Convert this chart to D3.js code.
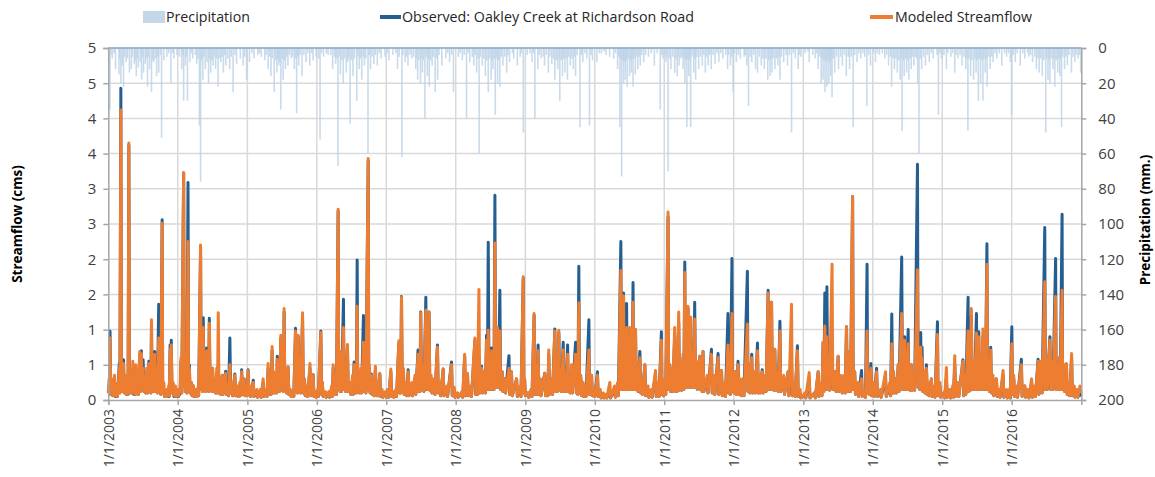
<!DOCTYPE html>
<html>
<head>
<meta charset="utf-8">
<script src="https://cdn.jsdelivr.net/npm/d3@7"></script>
<style>
  html, body { margin: 0; padding: 0; background: #ffffff; }
  svg { display: block; }
</style>
</head>
<body>
<svg id="chart" width="1155" height="477"></svg>
<script>
// ---------------- DATA ----------------
const yearTickLabels = ["1/1/2003","1/1/2004","1/1/2005","1/1/2006","1/1/2007","1/1/2008","1/1/2009",
  "1/1/2010","1/1/2011","1/1/2012","1/1/2013","1/1/2014","1/1/2015","1/1/2016"];
const flowTickValues = [0, 0.5, 1, 1.5, 2, 2.5, 3, 3.5, 4, 4.5, 5];
const flowTickLabels = ["0","1","1","2","2","3","3","4","4","5","5"];
const precipTickValues = [0, 20, 40, 60, 80, 100, 120, 140, 160, 180, 200];

const legendLabels = ["Precipitation", "Observed: Oakley Creek at Richardson Road", "Modeled Streamflow"];

// Observed streamflow (cms)
const observedFlow = [
["2003-01-01",.12],["2003-01-05",.20],["2003-01-07",.08],["2003-01-10",.98],["2003-01-14",.15],["2003-01-20",.25],["2003-01-24",.06],["2003-02-03",.10],["2003-02-07",.05],["2003-02-14",.22],["2003-02-18",.05],["2003-02-28",.52],["2003-03-03",.10],["2003-03-08",4.43],["2003-03-11",.15],["2003-03-16",.55],["2003-03-19",.12],["2003-03-22",.57],["2003-03-26",.10],["2003-04-02",.30],["2003-04-06",.08],["2003-04-12",.15],["2003-04-15",.08],["2003-04-19",3.62],["2003-04-22",.15],["2003-04-25",.45],["2003-04-28",.10],["2003-05-04",.38],["2003-05-07",.10],["2003-05-10",.25],["2003-05-14",.08],["2003-05-20",.20],["2003-05-23",.08],["2003-05-26",.42],["2003-05-30",.10],["2003-06-04",.18],["2003-06-08",.08],["2003-06-15",.62],["2003-06-19",.12],["2003-06-24",.70],["2003-06-28",.14],["2003-07-03",.57],["2003-07-07",.12],["2003-07-12",.25],["2003-07-16",.10],["2003-07-22",.40],["2003-07-26",.10],["2003-08-02",.55],["2003-08-06",.12],["2003-08-10",.20],["2003-08-13",.10],["2003-08-16",1.10],["2003-08-19",.15],["2003-08-22",.45],["2003-08-26",.12],["2003-09-02",.69],["2003-09-06",.12],["2003-09-12",.35],["2003-09-16",.10],["2003-09-23",1.36],["2003-09-26",.12],["2003-09-30",.40],["2003-10-04",.08],["2003-10-11",2.56],["2003-10-14",.10],["2003-10-20",.12],["2003-10-24",.05],["2003-11-04",.08],["2003-11-08",.05],["2003-11-14",.10],["2003-11-17",.05],["2003-11-22",.78],["2003-11-25",.15],["2003-11-28",.85],["2003-12-02",.10],["2003-12-08",.15],["2003-12-12",.05],["2003-12-20",.12],["2003-12-24",.05],["2003-12-30",.06],
["2004-01-05",.05],["2004-01-14",.10],["2004-01-18",.55],["2004-01-22",.10],["2004-02-01",3.22],["2004-02-04",.20],["2004-02-07",.70],["2004-02-10",.12],["2004-02-14",.35],["2004-02-18",.10],["2004-02-24",3.09],["2004-02-27",.15],["2004-03-02",.50],["2004-03-06",.10],["2004-03-12",.25],["2004-03-16",.06],["2004-03-22",.20],["2004-03-26",.05],["2004-04-05",.10],["2004-04-09",.05],["2004-04-16",.12],["2004-04-20",.06],["2004-04-30",2.18],["2004-05-03",.15],["2004-05-06",.45],["2004-05-10",.12],["2004-05-14",1.17],["2004-05-18",.15],["2004-05-22",.45],["2004-05-26",.12],["2004-06-01",.74],["2004-06-04",.15],["2004-06-08",.40],["2004-06-11",.12],["2004-06-15",1.16],["2004-06-19",.15],["2004-06-24",.45],["2004-06-28",.12],["2004-07-02",.45],["2004-07-06",.12],["2004-07-14",.25],["2004-07-18",.10],["2004-07-24",.20],["2004-07-28",.10],["2004-08-01",.50],["2004-08-05",.10],["2004-08-10",.30],["2004-08-14",.08],["2004-08-22",.35],["2004-08-26",.08],["2004-09-09",.41],["2004-09-13",.08],["2004-09-20",.15],["2004-09-24",.06],["2004-10-01",.88],["2004-10-05",.10],["2004-10-12",.20],["2004-10-16",.06],["2004-10-27",.37],["2004-10-31",.06],["2004-11-10",.15],["2004-11-14",.05],["2004-11-22",.20],["2004-11-26",.06],["2004-12-02",.43],["2004-12-06",.08],["2004-12-15",.30],["2004-12-19",.06],["2004-12-27",.20],["2004-12-31",.06],
["2005-01-05",.43],["2005-01-09",.08],["2005-01-15",.15],["2005-01-19",.05],["2005-02-01",.28],["2005-02-05",.05],["2005-02-20",.10],["2005-02-24",.04],["2005-03-10",.12],["2005-03-14",.04],["2005-03-25",.25],["2005-03-29",.05],["2005-04-10",.10],["2005-04-14",.05],["2005-04-20",.45],["2005-04-24",.08],["2005-05-01",.25],["2005-05-05",.08],["2005-05-11",.70],["2005-05-15",.10],["2005-05-20",.35],["2005-05-24",.10],["2005-06-01",.20],["2005-06-04",.10],["2005-06-07",.62],["2005-06-11",.12],["2005-06-15",.40],["2005-06-19",.12],["2005-06-26",.88],["2005-06-30",.14],["2005-07-05",.35],["2005-07-09",.12],["2005-07-13",1.25],["2005-07-17",.14],["2005-07-22",.40],["2005-07-26",.10],["2005-08-03",.47],["2005-08-07",.08],["2005-08-15",.10],["2005-08-19",.05],["2005-08-28",.08],["2005-09-02",.05],["2005-09-11",1.02],["2005-09-14",.12],["2005-09-18",.40],["2005-09-21",.10],["2005-09-25",.90],["2005-09-29",.12],["2005-10-04",.30],["2005-10-08",.10],["2005-10-18",1.15],["2005-10-22",.10],["2005-10-28",.30],["2005-11-01",.06],["2005-11-10",.15],["2005-11-14",.05],["2005-11-26",.45],["2005-11-30",.06],["2005-12-13",.36],["2005-12-17",.05],["2005-12-25",.10],["2005-12-29",.04],
["2006-01-05",.12],["2006-01-09",.05],["2006-01-22",.98],["2006-01-26",.08],["2006-01-30",.25],["2006-02-03",.05],["2006-02-15",.10],["2006-02-19",.04],["2006-03-05",.08],["2006-03-09",.04],["2006-03-20",.15],["2006-03-24",.05],["2006-03-28",.45],["2006-04-01",.08],["2006-04-10",.30],["2006-04-14",.08],["2006-04-23",2.68],["2006-04-26",.15],["2006-04-30",.40],["2006-05-03",.12],["2006-05-07",.65],["2006-05-11",.12],["2006-05-21",1.43],["2006-05-24",.15],["2006-05-28",.45],["2006-06-01",.12],["2006-06-11",.75],["2006-06-15",.12],["2006-06-25",.20],["2006-06-29",.08],["2006-07-08",.20],["2006-07-11",.08],["2006-07-16",.54],["2006-07-20",.10],["2006-07-24",.30],["2006-07-28",.10],["2006-08-01",1.99],["2006-08-04",.15],["2006-08-10",.35],["2006-08-14",.10],["2006-08-20",.40],["2006-08-24",.10],["2006-09-03",1.20],["2006-09-06",.12],["2006-09-12",.30],["2006-09-16",.10],["2006-09-28",3.40],["2006-10-01",.15],["2006-10-04",.45],["2006-10-08",.10],["2006-10-15",.37],["2006-10-19",.08],["2006-10-25",.20],["2006-10-29",.06],["2006-11-05",.45],["2006-11-09",.06],["2006-11-15",.25],["2006-11-19",.06],["2006-11-28",.37],["2006-12-02",.05],["2006-12-10",.12],["2006-12-14",.04],["2006-12-28",.10],
["2007-01-02",.04],["2007-01-10",.15],["2007-01-14",.04],["2007-01-25",.40],["2007-01-29",.05],["2007-02-05",.08],["2007-02-09",.04],["2007-02-20",.12],["2007-02-24",.05],["2007-03-08",.80],["2007-03-12",.10],["2007-03-15",.35],["2007-03-18",.10],["2007-03-22",1.47],["2007-03-26",.12],["2007-04-01",.40],["2007-04-05",.08],["2007-04-15",.15],["2007-04-19",.06],["2007-04-26",.43],["2007-04-30",.06],["2007-05-15",.20],["2007-05-19",.06],["2007-06-01",.30],["2007-06-05",.08],["2007-06-17",.71],["2007-06-20",.12],["2007-06-24",.40],["2007-06-27",.12],["2007-07-01",1.25],["2007-07-05",.15],["2007-07-14",.50],["2007-07-18",.12],["2007-07-28",1.46],["2007-07-31",.15],["2007-08-05",.60],["2007-08-09",.15],["2007-08-14",1.25],["2007-08-18",.14],["2007-08-25",.30],["2007-08-29",.10],["2007-09-10",.25],["2007-09-14",.08],["2007-09-27",.78],["2007-10-01",.10],["2007-10-10",.20],["2007-10-14",.06],["2007-10-27",.44],["2007-10-31",.06],["2007-11-15",.15],["2007-11-19",.05],["2007-12-10",.54],["2007-12-14",.06],["2007-12-24",.15],["2007-12-28",.04],
["2008-01-10",.10],["2008-01-14",.04],["2008-02-03",.10],["2008-02-07",.04],["2008-02-17",.62],["2008-02-21",.06],["2008-03-03",.35],["2008-03-07",.06],["2008-03-20",.15],["2008-03-24",.05],["2008-04-11",.85],["2008-04-15",.08],["2008-04-20",.30],["2008-04-24",.08],["2008-05-02",.60],["2008-05-06",.10],["2008-05-16",.48],["2008-05-20",.10],["2008-06-01",.40],["2008-06-05",.10],["2008-06-11",.92],["2008-06-15",.15],["2008-06-20",2.24],["2008-06-24",.15],["2008-06-28",.55],["2008-07-02",.15],["2008-07-08",.74],["2008-07-12",.15],["2008-07-16",.50],["2008-07-20",.15],["2008-07-25",2.91],["2008-07-28",.20],["2008-08-01",.60],["2008-08-04",.18],["2008-08-08",1.03],["2008-08-12",.18],["2008-08-20",1.56],["2008-08-24",.15],["2008-09-01",.40],["2008-09-05",.12],["2008-09-15",.30],["2008-09-19",.10],["2008-10-07",.63],["2008-10-11",.08],["2008-10-20",.40],["2008-10-24",.06],["2008-11-16",.30],["2008-11-20",.05],["2008-12-05",.15],["2008-12-09",.05],["2008-12-21",1.73],["2008-12-24",.10],["2008-12-28",.30],
["2009-01-01",.06],["2009-01-15",.10],["2009-01-19",.04],["2009-02-01",.15],["2009-02-05",.05],["2009-02-16",1.20],["2009-02-20",.08],["2009-02-25",.40],["2009-03-01",.08],["2009-03-09",.78],["2009-03-13",.08],["2009-03-20",.30],["2009-03-24",.06],["2009-04-13",.38],["2009-04-17",.06],["2009-04-25",.20],["2009-04-29",.06],["2009-05-04",.65],["2009-05-08",.08],["2009-05-20",.30],["2009-05-24",.08],["2009-06-05",1.01],["2009-06-09",.12],["2009-06-15",.45],["2009-06-19",.12],["2009-06-26",.95],["2009-06-30",.14],["2009-07-05",.40],["2009-07-09",.12],["2009-07-19",.82],["2009-07-23",.12],["2009-07-28",.35],["2009-08-01",.12],["2009-08-11",.78],["2009-08-15",.12],["2009-08-20",.30],["2009-08-24",.10],["2009-09-01",.45],["2009-09-05",.10],["2009-09-22",.82],["2009-09-26",.10],["2009-09-30",.35],["2009-10-04",.08],["2009-10-09",1.90],["2009-10-13",.10],["2009-10-20",.30],["2009-10-24",.06],["2009-11-01",.15],["2009-11-05",.05],["2009-11-12",.20],["2009-11-16",.05],["2009-12-01",1.14],["2009-12-04",.08],["2009-12-08",.30],["2009-12-11",.08],["2009-12-15",.35],["2009-12-19",.06],["2009-12-28",.15],
["2010-01-01",.05],["2010-01-15",.40],["2010-01-19",.05],["2010-01-30",.10],["2010-02-03",.03],["2010-02-15",.06],["2010-02-19",.03],["2010-03-01",.05],["2010-03-05",.03],["2010-03-21",.12],["2010-03-25",.03],["2010-04-15",.15],["2010-04-19",.04],["2010-05-01",.20],["2010-05-05",.06],["2010-05-18",2.25],["2010-05-21",.15],["2010-05-25",.60],["2010-05-28",.15],["2010-06-01",1.52],["2010-06-04",.15],["2010-06-08",.60],["2010-06-12",.15],["2010-06-17",1.37],["2010-06-21",.15],["2010-06-25",.50],["2010-06-29",.15],["2010-07-04",1.00],["2010-07-08",.15],["2010-07-12",.60],["2010-07-16",.15],["2010-07-21",1.67],["2010-07-24",.15],["2010-07-28",.60],["2010-07-31",.15],["2010-08-03",1.00],["2010-08-07",.15],["2010-08-12",.50],["2010-08-16",.12],["2010-08-26",.69],["2010-08-30",.10],["2010-09-05",.30],["2010-09-09",.08],["2010-09-21",.50],["2010-09-25",.06],["2010-10-08",.10],["2010-10-12",.04],["2010-10-25",.08],["2010-10-29",.04],["2010-11-16",.35],["2010-11-20",.05],["2010-12-01",.20],["2010-12-05",.05],["2010-12-17",.97],["2010-12-20",.08],["2010-12-24",.20],["2010-12-28",.06],
["2011-01-05",.20],["2011-01-09",.08],["2011-01-21",2.60],["2011-01-24",.15],["2011-01-30",.50],["2011-02-03",.12],["2011-02-10",.40],["2011-02-14",.12],["2011-02-25",.90],["2011-03-01",.12],["2011-03-05",.50],["2011-03-09",.12],["2011-03-18",1.10],["2011-03-22",.14],["2011-03-30",.50],["2011-04-03",.14],["2011-04-10",.60],["2011-04-14",.15],["2011-04-19",1.96],["2011-04-22",.18],["2011-04-28",.70],["2011-05-02",.18],["2011-05-06",1.30],["2011-05-10",.18],["2011-05-14",.60],["2011-05-17",.18],["2011-05-20",1.15],["2011-05-24",.18],["2011-06-01",.70],["2011-06-05",.18],["2011-06-10",1.39],["2011-06-14",.18],["2011-06-20",.50],["2011-06-24",.15],["2011-07-07",.62],["2011-07-11",.15],["2011-07-15",.35],["2011-07-19",.12],["2011-07-24",.69],["2011-07-28",.12],["2011-08-15",.30],["2011-08-19",.10],["2011-09-06",.72],["2011-09-10",.10],["2011-09-20",.30],["2011-09-24",.08],["2011-10-11",.66],["2011-10-15",.08],["2011-10-29",.42],["2011-11-02",.06],["2011-11-15",.20],["2011-11-19",.05],["2011-12-02",1.23],["2011-12-05",.10],["2011-12-10",.30],["2011-12-14",.08],["2011-12-23",2.01],["2011-12-26",.12],["2011-12-30",.40],
["2012-01-03",.10],["2012-01-10",.40],["2012-01-14",.08],["2012-01-24",.55],["2012-01-28",.08],["2012-02-05",.25],["2012-02-09",.06],["2012-02-20",.30],["2012-02-24",.06],["2012-03-13",1.83],["2012-03-16",.12],["2012-03-22",.50],["2012-03-26",.10],["2012-04-05",.65],["2012-04-09",.10],["2012-04-20",.35],["2012-04-24",.10],["2012-05-05",.81],["2012-05-09",.10],["2012-05-15",.35],["2012-05-19",.10],["2012-05-30",.43],["2012-06-03",.10],["2012-06-15",.30],["2012-06-19",.12],["2012-06-30",1.56],["2012-07-03",.15],["2012-07-08",.60],["2012-07-12",.15],["2012-07-18",1.39],["2012-07-22",.15],["2012-07-26",.50],["2012-07-30",.14],["2012-08-04",.72],["2012-08-08",.14],["2012-08-18",.40],["2012-08-22",.12],["2012-08-31",1.12],["2012-09-04",.12],["2012-09-20",.30],["2012-09-24",.08],["2012-10-13",.40],["2012-10-17",.06],["2012-10-31",.50],["2012-11-04",.06],["2012-11-15",.20],["2012-11-19",.05],["2012-12-01",.77],["2012-12-05",.05],["2012-12-15",.10],["2012-12-19",.03],
["2013-01-10",.08],["2013-01-14",.03],["2013-02-01",.30],["2013-02-05",.03],["2013-03-01",.10],["2013-03-05",.03],["2013-03-20",.40],["2013-03-24",.05],["2013-04-05",.20],["2013-04-09",.06],["2013-04-15",.82],["2013-04-19",.12],["2013-04-24",1.52],["2013-04-28",.15],["2013-05-05",1.61],["2013-05-09",.15],["2013-05-15",.50],["2013-05-19",.14],["2013-06-01",.90],["2013-06-05",.15],["2013-06-18",.40],["2013-06-22",.12],["2013-07-03",.62],["2013-07-07",.12],["2013-07-20",.30],["2013-07-24",.10],["2013-08-05",.25],["2013-08-09",.10],["2013-08-16",1.04],["2013-08-20",.12],["2013-08-25",.40],["2013-08-28",.12],["2013-09-02",.69],["2013-09-06",.12],["2013-09-17",2.89],["2013-09-20",.15],["2013-09-28",.40],["2013-10-02",.08],["2013-10-15",.20],["2013-10-19",.05],["2013-11-03",.42],["2013-11-07",.05],["2013-11-20",.10],["2013-11-24",.04],["2013-12-02",1.93],["2013-12-05",.10],["2013-12-10",.40],["2013-12-14",.08],["2013-12-22",.52],["2013-12-26",.06],
["2014-01-05",.20],["2014-01-09",.05],["2014-01-21",.45],["2014-01-25",.05],["2014-02-10",.10],["2014-02-14",.04],["2014-03-09",.30],["2014-03-13",.05],["2014-04-01",.20],["2014-04-05",.06],["2014-04-11",1.22],["2014-04-15",.10],["2014-04-20",.40],["2014-04-24",.10],["2014-05-01",.30],["2014-05-05",.10],["2014-05-15",.50],["2014-05-19",.12],["2014-06-02",2.03],["2014-06-06",.15],["2014-06-10",.60],["2014-06-14",.15],["2014-06-18",.90],["2014-06-22",.15],["2014-06-26",.50],["2014-06-30",.15],["2014-07-06",1.00],["2014-07-09",.15],["2014-07-12",.50],["2014-07-16",.14],["2014-07-23",.50],["2014-07-27",.14],["2014-08-05",.40],["2014-08-09",.14],["2014-08-24",3.35],["2014-08-27",.18],["2014-09-01",.50],["2014-09-05",.15],["2014-09-10",.96],["2014-09-13",.15],["2014-09-17",.75],["2014-09-21",.12],["2014-09-28",.40],["2014-10-02",.10],["2014-10-10",.50],["2014-10-14",.08],["2014-10-20",.20],["2014-10-24",.06],["2014-11-05",.30],["2014-11-09",.05],["2014-11-20",.15],["2014-11-24",.04],["2014-12-07",1.11],["2014-12-10",.06],["2014-12-20",.20],["2014-12-24",.04],
["2015-01-10",.10],["2015-01-14",.03],["2015-01-23",.30],["2015-01-27",.04],["2015-02-10",.10],["2015-02-14",.03],["2015-02-25",.15],["2015-03-01",.04],["2015-03-08",.50],["2015-03-12",.05],["2015-03-25",.20],["2015-03-29",.05],["2015-04-20",.57],["2015-04-24",.06],["2015-05-01",.30],["2015-05-05",.08],["2015-05-17",1.46],["2015-05-20",.12],["2015-05-25",.60],["2015-05-29",.14],["2015-06-03",1.20],["2015-06-07",.15],["2015-06-15",.50],["2015-06-19",.15],["2015-06-30",1.23],["2015-07-02",.15],["2015-07-05",.60],["2015-07-08",.15],["2015-07-12",.97],["2015-07-16",.15],["2015-07-22",.50],["2015-07-26",.15],["2015-08-03",.90],["2015-08-07",.15],["2015-08-12",.50],["2015-08-16",.15],["2015-08-24",2.22],["2015-08-27",.15],["2015-09-02",.50],["2015-09-06",.12],["2015-09-13",.75],["2015-09-17",.10],["2015-09-25",.30],["2015-09-29",.06],["2015-10-13",.30],["2015-10-17",.05],["2015-10-28",.10],["2015-11-01",.04],["2015-11-17",.35],["2015-11-21",.04],["2015-12-05",.10],["2015-12-09",.03],["2015-12-20",.12],["2015-12-24",.03],
["2016-01-02",1.04],["2016-01-05",.08],["2016-01-12",.30],["2016-01-16",.05],["2016-01-28",.15],["2016-02-01",.04],["2016-02-21",.58],["2016-02-25",.05],["2016-03-10",.20],["2016-03-14",.04],["2016-03-28",.10],["2016-04-01",.03],["2016-04-15",.25],["2016-04-19",.04],["2016-05-01",.15],["2016-05-05",.05],["2016-05-19",.58],["2016-05-23",.08],["2016-06-05",.50],["2016-06-09",.10],["2016-06-23",2.45],["2016-06-26",.15],["2016-07-02",.60],["2016-07-06",.15],["2016-07-20",.90],["2016-07-24",.15],["2016-08-01",.50],["2016-08-05",.15],["2016-08-19",2.01],["2016-08-22",.15],["2016-08-28",.50],["2016-09-01",.15],["2016-09-08",.60],["2016-09-12",.15],["2016-09-22",2.64],["2016-09-25",.15],["2016-10-01",.50],["2016-10-05",.12],["2016-10-15",.50],["2016-10-19",.08],["2016-10-28",.20],["2016-11-01",.06],["2016-11-11",.60],["2016-11-15",.06],["2016-11-25",.15],["2016-11-29",.04],["2016-12-10",.10],["2016-12-14",.04],["2016-12-25",.10],["2016-12-31",.05]
];

// Modeled streamflow (cms)
const modeledFlow = [
["2003-01-01",.10],["2003-01-05",.30],["2003-01-07",.08],["2003-01-10",.88],["2003-01-14",.12],["2003-01-20",.30],["2003-01-24",.06],["2003-02-03",.35],["2003-02-07",.06],["2003-02-14",.20],["2003-02-18",.05],["2003-02-28",.45],["2003-03-03",.10],["2003-03-08",4.12],["2003-03-11",.15],["2003-03-16",.50],["2003-03-19",.12],["2003-03-22",.52],["2003-03-26",.10],["2003-04-02",.35],["2003-04-06",.08],["2003-04-12",.25],["2003-04-15",.08],["2003-04-19",3.65],["2003-04-22",.15],["2003-04-25",.40],["2003-04-28",.10],["2003-05-04",.30],["2003-05-07",.10],["2003-05-10",.55],["2003-05-14",.10],["2003-05-20",.30],["2003-05-23",.08],["2003-05-26",.50],["2003-05-30",.10],["2003-06-04",.25],["2003-06-08",.08],["2003-06-15",.69],["2003-06-19",.12],["2003-06-24",.66],["2003-06-28",.14],["2003-07-03",.45],["2003-07-07",.12],["2003-07-12",.30],["2003-07-16",.10],["2003-07-22",.45],["2003-07-26",.10],["2003-08-02",.52],["2003-08-06",.12],["2003-08-10",.35],["2003-08-13",.10],["2003-08-16",1.14],["2003-08-19",.15],["2003-08-22",.50],["2003-08-26",.12],["2003-09-02",.65],["2003-09-06",.12],["2003-09-12",.40],["2003-09-16",.10],["2003-09-23",.88],["2003-09-26",.12],["2003-09-30",.45],["2003-10-04",.08],["2003-10-11",2.51],["2003-10-14",.10],["2003-10-20",.25],["2003-10-24",.05],["2003-11-04",.15],["2003-11-08",.05],["2003-11-14",.20],["2003-11-17",.06],["2003-11-22",.72],["2003-11-25",.15],["2003-11-28",.78],["2003-12-02",.10],["2003-12-08",.25],["2003-12-12",.06],["2003-12-20",.20],["2003-12-24",.05],["2003-12-30",.15],
["2004-01-05",.06],["2004-01-14",.20],["2004-01-18",.60],["2004-01-22",.10],["2004-02-01",3.23],["2004-02-04",.20],["2004-02-07",.60],["2004-02-10",.12],["2004-02-14",.40],["2004-02-18",.10],["2004-02-24",2.25],["2004-02-27",.15],["2004-03-02",.45],["2004-03-06",.10],["2004-03-12",.25],["2004-03-16",.06],["2004-03-22",.21],["2004-03-26",.05],["2004-04-05",.15],["2004-04-09",.05],["2004-04-16",.18],["2004-04-20",.06],["2004-04-30",2.20],["2004-05-03",.15],["2004-05-06",.50],["2004-05-10",.12],["2004-05-14",1.03],["2004-05-18",.15],["2004-05-22",.40],["2004-05-26",.12],["2004-06-01",.70],["2004-06-04",.15],["2004-06-08",.45],["2004-06-11",.12],["2004-06-15",1.09],["2004-06-19",.15],["2004-06-24",.40],["2004-06-28",.12],["2004-07-02",.45],["2004-07-06",.12],["2004-07-14",.30],["2004-07-18",.10],["2004-07-24",.45],["2004-07-28",.10],["2004-08-01",1.24],["2004-08-05",.10],["2004-08-10",.30],["2004-08-14",.08],["2004-08-22",.35],["2004-08-26",.08],["2004-09-09",.38],["2004-09-13",.08],["2004-09-20",.20],["2004-09-24",.06],["2004-10-01",.50],["2004-10-05",.10],["2004-10-12",.25],["2004-10-16",.06],["2004-10-27",.35],["2004-10-31",.06],["2004-11-10",.20],["2004-11-14",.05],["2004-11-22",.25],["2004-11-26",.06],["2004-12-02",.40],["2004-12-06",.08],["2004-12-15",.30],["2004-12-19",.06],["2004-12-27",.20],["2004-12-31",.06],
["2005-01-05",.42],["2005-01-09",.08],["2005-01-15",.20],["2005-01-19",.05],["2005-02-01",.25],["2005-02-05",.05],["2005-02-20",.15],["2005-02-24",.04],["2005-03-10",.15],["2005-03-14",.04],["2005-03-25",.30],["2005-03-29",.05],["2005-04-10",.15],["2005-04-14",.05],["2005-04-20",.52],["2005-04-24",.08],["2005-05-01",.30],["2005-05-05",.08],["2005-05-11",.76],["2005-05-15",.10],["2005-05-20",.40],["2005-05-24",.10],["2005-06-01",.30],["2005-06-04",.10],["2005-06-07",.58],["2005-06-11",.12],["2005-06-15",.45],["2005-06-19",.12],["2005-06-26",.92],["2005-06-30",.14],["2005-07-05",.40],["2005-07-09",.12],["2005-07-13",1.30],["2005-07-17",.14],["2005-07-22",.45],["2005-07-26",.10],["2005-08-03",.47],["2005-08-07",.08],["2005-08-15",.15],["2005-08-19",.05],["2005-08-28",.12],["2005-09-02",.05],["2005-09-11",.98],["2005-09-14",.12],["2005-09-18",.45],["2005-09-21",.10],["2005-09-25",.92],["2005-09-29",.12],["2005-10-04",.35],["2005-10-08",.10],["2005-10-18",1.24],["2005-10-22",.10],["2005-10-28",.30],["2005-11-01",.06],["2005-11-10",.20],["2005-11-14",.05],["2005-11-26",.52],["2005-11-30",.06],["2005-12-13",.36],["2005-12-17",.05],["2005-12-25",.12],["2005-12-29",.04],
["2006-01-05",.15],["2006-01-09",.05],["2006-01-22",.96],["2006-01-26",.08],["2006-01-30",.25],["2006-02-03",.05],["2006-02-15",.12],["2006-02-19",.04],["2006-03-05",.12],["2006-03-09",.04],["2006-03-20",.20],["2006-03-24",.05],["2006-03-28",.50],["2006-04-01",.08],["2006-04-10",.35],["2006-04-14",.08],["2006-04-23",2.71],["2006-04-26",.15],["2006-04-30",.45],["2006-05-03",.12],["2006-05-07",.69],["2006-05-11",.12],["2006-05-21",1.03],["2006-05-24",.15],["2006-05-28",.50],["2006-06-01",.12],["2006-06-11",.79],["2006-06-15",.12],["2006-06-25",.25],["2006-06-29",.08],["2006-07-08",.35],["2006-07-11",.08],["2006-07-16",.50],["2006-07-20",.10],["2006-07-24",.35],["2006-07-28",.10],["2006-08-01",1.33],["2006-08-04",.15],["2006-08-10",.40],["2006-08-14",.10],["2006-08-20",.45],["2006-08-24",.10],["2006-09-03",.82],["2006-09-06",.12],["2006-09-12",.30],["2006-09-16",.10],["2006-09-28",3.43],["2006-10-01",.15],["2006-10-04",.50],["2006-10-08",.10],["2006-10-15",.35],["2006-10-19",.08],["2006-10-25",.25],["2006-10-29",.06],["2006-11-05",.48],["2006-11-09",.06],["2006-11-15",.25],["2006-11-19",.06],["2006-11-28",.38],["2006-12-02",.05],["2006-12-10",.15],["2006-12-14",.04],["2006-12-28",.12],
["2007-01-02",.04],["2007-01-10",.15],["2007-01-14",.04],["2007-01-25",.44],["2007-01-29",.05],["2007-02-05",.12],["2007-02-09",.04],["2007-02-20",.15],["2007-02-24",.05],["2007-03-08",.84],["2007-03-12",.10],["2007-03-15",.40],["2007-03-18",.10],["2007-03-22",1.46],["2007-03-26",.12],["2007-04-01",.45],["2007-04-05",.08],["2007-04-15",.25],["2007-04-19",.06],["2007-04-26",.40],["2007-04-30",.06],["2007-05-15",.25],["2007-05-19",.06],["2007-06-01",.35],["2007-06-05",.08],["2007-06-17",.65],["2007-06-20",.12],["2007-06-24",.45],["2007-06-27",.12],["2007-07-01",1.24],["2007-07-05",.15],["2007-07-14",.50],["2007-07-18",.12],["2007-07-28",1.28],["2007-07-31",.15],["2007-08-05",.60],["2007-08-09",.15],["2007-08-14",1.25],["2007-08-18",.14],["2007-08-25",.35],["2007-08-29",.10],["2007-09-10",.30],["2007-09-14",.08],["2007-09-27",.75],["2007-10-01",.10],["2007-10-10",.25],["2007-10-14",.06],["2007-10-27",.44],["2007-10-31",.06],["2007-11-15",.20],["2007-11-19",.05],["2007-12-10",.50],["2007-12-14",.06],["2007-12-24",.18],["2007-12-28",.04],
["2008-01-10",.10],["2008-01-14",.04],["2008-02-03",.12],["2008-02-07",.04],["2008-02-17",.65],["2008-02-21",.06],["2008-03-03",.38],["2008-03-07",.06],["2008-03-20",.20],["2008-03-24",.05],["2008-04-11",.88],["2008-04-15",.08],["2008-04-20",.35],["2008-04-24",.08],["2008-05-02",1.57],["2008-05-06",.10],["2008-05-16",.45],["2008-05-20",.10],["2008-06-01",.40],["2008-06-05",.10],["2008-06-11",.85],["2008-06-15",.15],["2008-06-20",.99],["2008-06-24",.15],["2008-06-28",.55],["2008-07-02",.15],["2008-07-08",.70],["2008-07-12",.15],["2008-07-16",.50],["2008-07-20",.15],["2008-07-25",2.23],["2008-07-28",.20],["2008-08-01",.60],["2008-08-04",.18],["2008-08-08",1.03],["2008-08-12",.18],["2008-08-20",.98],["2008-08-24",.15],["2008-09-01",.40],["2008-09-05",.12],["2008-09-15",.30],["2008-09-19",.10],["2008-10-07",.45],["2008-10-11",.08],["2008-10-20",.40],["2008-10-24",.06],["2008-11-16",.30],["2008-11-20",.05],["2008-12-05",.20],["2008-12-09",.05],["2008-12-21",1.75],["2008-12-24",.10],["2008-12-28",.30],
["2009-01-01",.06],["2009-01-15",.10],["2009-01-19",.04],["2009-02-01",.15],["2009-02-05",.05],["2009-02-16",1.23],["2009-02-20",.08],["2009-02-25",.40],["2009-03-01",.08],["2009-03-09",.70],["2009-03-13",.08],["2009-03-20",.30],["2009-03-24",.06],["2009-04-13",.38],["2009-04-17",.06],["2009-04-25",.25],["2009-04-29",.06],["2009-05-04",.71],["2009-05-08",.08],["2009-05-20",.30],["2009-05-24",.08],["2009-06-05",.98],["2009-06-09",.12],["2009-06-15",.45],["2009-06-19",.12],["2009-06-26",.99],["2009-06-30",.14],["2009-07-05",.40],["2009-07-09",.12],["2009-07-19",.71],["2009-07-23",.12],["2009-07-28",.35],["2009-08-01",.12],["2009-08-11",.65],["2009-08-15",.12],["2009-08-20",.30],["2009-08-24",.10],["2009-09-01",.50],["2009-09-05",.10],["2009-09-22",.65],["2009-09-26",.10],["2009-09-30",.35],["2009-10-04",.08],["2009-10-09",1.38],["2009-10-13",.10],["2009-10-20",.35],["2009-10-24",.06],["2009-11-01",.25],["2009-11-05",.05],["2009-11-12",.20],["2009-11-16",.05],["2009-12-01",.71],["2009-12-04",.08],["2009-12-08",.35],["2009-12-11",.08],["2009-12-15",.35],["2009-12-19",.06],["2009-12-28",.15],
["2010-01-01",.05],["2010-01-15",.35],["2010-01-19",.05],["2010-01-30",.15],["2010-02-03",.03],["2010-02-15",.10],["2010-02-19",.03],["2010-03-01",.08],["2010-03-05",.03],["2010-03-21",.25],["2010-03-25",.03],["2010-04-15",.20],["2010-04-19",.04],["2010-05-01",.25],["2010-05-05",.06],["2010-05-18",1.84],["2010-05-21",.15],["2010-05-25",.60],["2010-05-28",.15],["2010-06-01",1.48],["2010-06-04",.15],["2010-06-08",.60],["2010-06-12",.15],["2010-06-17",1.03],["2010-06-21",.15],["2010-06-25",.55],["2010-06-29",.15],["2010-07-04",1.03],["2010-07-08",.15],["2010-07-12",.60],["2010-07-16",.15],["2010-07-21",1.39],["2010-07-24",.15],["2010-07-28",.60],["2010-07-31",.15],["2010-08-03",1.00],["2010-08-07",.15],["2010-08-12",.50],["2010-08-16",.12],["2010-08-26",.60],["2010-08-30",.10],["2010-09-05",.30],["2010-09-09",.08],["2010-09-21",.50],["2010-09-25",.06],["2010-10-08",.20],["2010-10-12",.04],["2010-10-25",.15],["2010-10-29",.04],["2010-11-16",.42],["2010-11-20",.05],["2010-12-01",.25],["2010-12-05",.05],["2010-12-17",.85],["2010-12-20",.08],["2010-12-24",.30],["2010-12-28",.06],
["2011-01-05",.30],["2011-01-09",.08],["2011-01-21",2.67],["2011-01-24",.15],["2011-01-30",.50],["2011-02-03",.12],["2011-02-10",.45],["2011-02-14",.12],["2011-02-25",1.03],["2011-03-01",.12],["2011-03-05",.55],["2011-03-09",.12],["2011-03-18",1.25],["2011-03-22",.14],["2011-03-30",.55],["2011-04-03",.14],["2011-04-10",.65],["2011-04-14",.15],["2011-04-19",1.81],["2011-04-22",.18],["2011-04-28",.75],["2011-05-02",.18],["2011-05-06",1.33],["2011-05-10",.18],["2011-05-14",.65],["2011-05-17",.18],["2011-05-20",1.18],["2011-05-24",.18],["2011-06-01",.70],["2011-06-05",.18],["2011-06-10",1.15],["2011-06-14",.18],["2011-06-20",.55],["2011-06-24",.15],["2011-07-07",.62],["2011-07-11",.15],["2011-07-15",.40],["2011-07-19",.12],["2011-07-24",.69],["2011-07-28",.12],["2011-08-15",.35],["2011-08-19",.10],["2011-09-06",.65],["2011-09-10",.10],["2011-09-20",.35],["2011-09-24",.08],["2011-10-11",.60],["2011-10-15",.08],["2011-10-29",.42],["2011-11-02",.06],["2011-11-15",.25],["2011-11-19",.05],["2011-12-02",.78],["2011-12-05",.10],["2011-12-10",.35],["2011-12-14",.08],["2011-12-23",1.23],["2011-12-26",.12],["2011-12-30",.40],
["2012-01-03",.10],["2012-01-10",.40],["2012-01-14",.08],["2012-01-24",.50],["2012-01-28",.08],["2012-02-05",.30],["2012-02-09",.06],["2012-02-20",.30],["2012-02-24",.06],["2012-03-13",1.08],["2012-03-16",.12],["2012-03-22",.50],["2012-03-26",.10],["2012-04-05",.60],["2012-04-09",.10],["2012-04-20",.40],["2012-04-24",.10],["2012-05-05",.70],["2012-05-09",.10],["2012-05-15",.35],["2012-05-19",.10],["2012-05-30",.40],["2012-06-03",.10],["2012-06-15",.35],["2012-06-19",.12],["2012-06-30",1.52],["2012-07-03",.15],["2012-07-08",.60],["2012-07-12",.15],["2012-07-18",1.39],["2012-07-22",.15],["2012-07-26",.55],["2012-07-30",.14],["2012-08-04",.72],["2012-08-08",.14],["2012-08-18",.40],["2012-08-22",.12],["2012-08-31",.98],["2012-09-04",.12],["2012-09-20",.35],["2012-09-24",.08],["2012-10-13",.40],["2012-10-17",.06],["2012-10-31",1.36],["2012-11-04",.06],["2012-11-15",.25],["2012-11-19",.05],["2012-12-01",.70],["2012-12-05",.05],["2012-12-15",.15],["2012-12-19",.03],
["2013-01-10",.10],["2013-01-14",.03],["2013-02-01",.39],["2013-02-05",.03],["2013-03-01",.10],["2013-03-05",.03],["2013-03-20",.40],["2013-03-24",.05],["2013-04-05",.25],["2013-04-09",.06],["2013-04-15",.82],["2013-04-19",.12],["2013-04-24",1.05],["2013-04-28",.15],["2013-05-05",.90],["2013-05-09",.15],["2013-05-15",.50],["2013-05-19",.14],["2013-06-01",1.93],["2013-06-05",.15],["2013-06-18",.40],["2013-06-22",.12],["2013-07-03",.62],["2013-07-07",.12],["2013-07-20",.35],["2013-07-24",.10],["2013-08-05",.35],["2013-08-09",.10],["2013-08-16",1.04],["2013-08-20",.12],["2013-08-25",.45],["2013-08-28",.12],["2013-09-02",.69],["2013-09-06",.12],["2013-09-17",2.89],["2013-09-20",.15],["2013-09-28",.40],["2013-10-02",.08],["2013-10-15",.25],["2013-10-19",.05],["2013-11-03",.30],["2013-11-07",.05],["2013-11-20",.12],["2013-11-24",.04],["2013-12-02",.98],["2013-12-05",.10],["2013-12-10",.40],["2013-12-14",.08],["2013-12-22",.45],["2013-12-26",.06],
["2014-01-05",.25],["2014-01-09",.05],["2014-01-21",.40],["2014-01-25",.05],["2014-02-10",.15],["2014-02-14",.04],["2014-03-09",.40],["2014-03-13",.05],["2014-04-01",.25],["2014-04-05",.06],["2014-04-11",.80],["2014-04-15",.10],["2014-04-20",.40],["2014-04-24",.10],["2014-05-01",.30],["2014-05-05",.10],["2014-05-15",.50],["2014-05-19",.12],["2014-06-02",1.23],["2014-06-06",.15],["2014-06-10",.60],["2014-06-14",.15],["2014-06-18",.85],["2014-06-22",.15],["2014-06-26",.50],["2014-06-30",.15],["2014-07-06",.80],["2014-07-09",.15],["2014-07-12",.50],["2014-07-16",.14],["2014-07-23",.50],["2014-07-27",.14],["2014-08-05",.40],["2014-08-09",.14],["2014-08-24",1.85],["2014-08-27",.18],["2014-09-01",.50],["2014-09-05",.15],["2014-09-10",.75],["2014-09-13",.15],["2014-09-17",.60],["2014-09-21",.12],["2014-09-28",.40],["2014-10-02",.10],["2014-10-10",.45],["2014-10-14",.08],["2014-10-20",.25],["2014-10-24",.06],["2014-11-05",.30],["2014-11-09",.05],["2014-11-20",.20],["2014-11-24",.04],["2014-12-07",.93],["2014-12-10",.06],["2014-12-20",.25],["2014-12-24",.04],
["2015-01-10",.10],["2015-01-14",.03],["2015-01-23",.46],["2015-01-27",.04],["2015-02-10",.15],["2015-02-14",.03],["2015-02-25",.20],["2015-03-01",.04],["2015-03-08",.63],["2015-03-12",.05],["2015-03-25",.25],["2015-03-29",.05],["2015-04-20",.55],["2015-04-24",.06],["2015-05-01",.35],["2015-05-05",.08],["2015-05-17",.98],["2015-05-20",.12],["2015-05-25",.60],["2015-05-29",.14],["2015-06-03",1.30],["2015-06-07",.15],["2015-06-15",.55],["2015-06-19",.15],["2015-06-30",.95],["2015-07-02",.15],["2015-07-05",.60],["2015-07-08",.15],["2015-07-12",.90],["2015-07-16",.15],["2015-07-22",.50],["2015-07-26",.15],["2015-08-03",1.01],["2015-08-07",.15],["2015-08-12",.55],["2015-08-16",.15],["2015-08-24",1.93],["2015-08-27",.15],["2015-09-02",.50],["2015-09-06",.12],["2015-09-13",.71],["2015-09-17",.10],["2015-09-25",.35],["2015-09-29",.06],["2015-10-13",.30],["2015-10-17",.05],["2015-10-28",.15],["2015-11-01",.04],["2015-11-17",.42],["2015-11-21",.04],["2015-12-05",.15],["2015-12-09",.03],["2015-12-20",.15],["2015-12-24",.03],
["2016-01-02",.80],["2016-01-05",.08],["2016-01-12",.35],["2016-01-16",.05],["2016-01-28",.20],["2016-02-01",.04],["2016-02-21",.50],["2016-02-25",.05],["2016-03-10",.20],["2016-03-14",.04],["2016-03-28",.15],["2016-04-01",.03],["2016-04-15",.30],["2016-04-19",.04],["2016-05-01",.20],["2016-05-05",.05],["2016-05-19",.55],["2016-05-23",.08],["2016-06-05",.55],["2016-06-09",.10],["2016-06-23",1.68],["2016-06-26",.15],["2016-07-02",.60],["2016-07-06",.15],["2016-07-20",.85],["2016-07-24",.15],["2016-08-01",.55],["2016-08-05",.15],["2016-08-19",1.47],["2016-08-22",.15],["2016-08-28",.50],["2016-09-01",.15],["2016-09-08",.60],["2016-09-12",.15],["2016-09-22",1.56],["2016-09-25",.15],["2016-10-01",.50],["2016-10-05",.12],["2016-10-15",.52],["2016-10-19",.08],["2016-10-28",.25],["2016-11-01",.06],["2016-11-11",.66],["2016-11-15",.06],["2016-11-25",.20],["2016-11-29",.04],["2016-12-10",.15],["2016-12-14",.04],["2016-12-25",.20],["2016-12-31",.10]
];

// Daily precipitation (mm), hanging from the top
const precipitation = [
["2003-01-03",8],["2003-01-10",35],["2003-01-22",6],["2003-02-08",12],["2003-02-26",15],["2003-03-08",20],["2003-03-15",10],["2003-03-22",22],["2003-04-05",8],["2003-04-22",14],["2003-05-02",12],["2003-05-18",9],["2003-05-28",16],["2003-06-08",11],["2003-06-25",18],["2003-07-05",14],["2003-07-14",9],["2003-07-26",22],["2003-08-06",12],["2003-08-16",25],["2003-08-28",8],["2003-09-12",16],["2003-09-23",14],["2003-10-08",51],["2003-10-20",7],["2003-11-05",5],["2003-11-26",20],["2003-12-12",6],["2003-12-28",4],
["2004-01-10",5],["2004-01-22",12],["2004-02-01",30],["2004-02-10",10],["2004-02-21",30],["2004-03-05",8],["2004-03-20",6],["2004-04-10",9],["2004-04-24",44],["2004-04-30",76],["2004-05-12",18],["2004-05-25",12],["2004-06-11",20],["2004-06-22",14],["2004-07-05",10],["2004-07-18",12],["2004-07-31",22],["2004-08-15",8],["2004-08-28",14],["2004-09-10",10],["2004-09-30",12],["2004-10-18",25],["2004-11-05",9],["2004-11-25",6],["2004-12-10",10],["2004-12-28",18],
["2005-01-12",8],["2005-02-05",6],["2005-02-25",4],["2005-03-15",5],["2005-04-02",7],["2005-04-20",12],["2005-05-05",16],["2005-05-22",25],["2005-06-05",14],["2005-06-15",10],["2005-06-26",35],["2005-07-08",18],["2005-07-20",12],["2005-08-02",10],["2005-08-20",6],["2005-09-05",12],["2005-09-17",37],["2005-09-28",10],["2005-10-15",16],["2005-11-05",8],["2005-11-25",10],["2005-12-12",7],["2005-12-28",5],
["2006-01-10",6],["2006-01-18",52],["2006-02-05",5],["2006-03-01",4],["2006-03-25",12],["2006-04-10",9],["2006-04-22",67],["2006-05-05",15],["2006-05-20",20],["2006-06-05",14],["2006-06-25",43],["2006-07-10",16],["2006-07-30",30],["2006-08-12",12],["2006-08-25",18],["2006-09-08",10],["2006-09-27",60],["2006-10-10",12],["2006-10-28",9],["2006-11-15",10],["2006-12-05",6],["2006-12-25",5],
["2007-01-15",7],["2007-02-05",4],["2007-03-01",12],["2007-03-24",62],["2007-04-10",8],["2007-04-25",10],["2007-05-15",6],["2007-06-05",12],["2007-06-15",18],["2007-06-30",20],["2007-07-10",14],["2007-07-23",40],["2007-08-05",16],["2007-08-15",22],["2007-08-30",10],["2007-09-15",25],["2007-09-28",18],["2007-10-20",10],["2007-11-10",6],["2007-11-30",8],["2007-12-20",25],
["2008-01-15",5],["2008-02-05",7],["2008-02-27",40],["2008-03-15",8],["2008-04-05",10],["2008-04-20",14],["2008-05-03",60],["2008-05-20",10],["2008-06-05",16],["2008-06-20",25],["2008-07-05",18],["2008-07-15",12],["2008-07-27",38],["2008-08-08",20],["2008-08-20",22],["2008-09-05",10],["2008-09-25",14],["2008-10-10",8],["2008-11-01",6],["2008-11-20",10],["2008-12-05",5],["2008-12-21",48],
["2009-01-10",4],["2009-02-05",8],["2009-02-20",40],["2009-03-08",12],["2009-03-25",6],["2009-04-12",10],["2009-05-02",14],["2009-05-20",9],["2009-06-05",18],["2009-06-20",12],["2009-07-01",30],["2009-07-15",16],["2009-07-28",14],["2009-08-10",18],["2009-08-25",10],["2009-09-10",12],["2009-09-22",16],["2009-10-15",45],["2009-10-30",8],["2009-11-20",6],["2009-12-04",44],["2009-12-20",7],
["2010-01-12",8],["2010-02-05",3],["2010-03-01",4],["2010-03-20",5],["2010-04-10",6],["2010-05-01",12],["2010-05-13",45],["2010-05-22",73],["2010-06-01",20],["2010-06-10",18],["2010-06-20",22],["2010-07-02",16],["2010-07-12",14],["2010-07-21",22],["2010-08-02",15],["2010-08-15",12],["2010-08-28",10],["2010-09-15",8],["2010-10-10",5],["2010-11-10",10],["2010-12-11",35],["2010-12-25",6],
["2011-01-10",8],["2011-01-21",70],["2011-02-05",12],["2011-02-25",14],["2011-03-10",16],["2011-03-20",10],["2011-04-10",12],["2011-04-20",20],["2011-04-30",45],["2011-05-10",16],["2011-05-20",45],["2011-06-05",14],["2011-06-15",18],["2011-07-01",12],["2011-07-20",10],["2011-08-05",14],["2011-08-20",10],["2011-09-05",12],["2011-09-25",9],["2011-10-15",8],["2011-11-05",6],["2011-11-30",12],["2011-12-15",10],["2011-12-29",25],
["2012-01-15",8],["2012-02-05",6],["2012-02-25",5],["2012-03-10",10],["2012-03-19",33],["2012-04-05",8],["2012-04-25",12],["2012-05-05",14],["2012-05-25",10],["2012-06-10",12],["2012-06-28",18],["2012-07-10",16],["2012-07-20",14],["2012-08-05",12],["2012-08-20",10],["2012-08-31",18],["2012-09-20",8],["2012-10-10",10],["2012-10-31",48],["2012-11-20",6],["2012-12-05",12],["2012-12-20",5],
["2013-01-10",3],["2013-02-01",8],["2013-02-20",4],["2013-03-05",6],["2013-03-20",12],["2013-04-05",20],["2013-04-15",18],["2013-04-25",25],["2013-05-05",22],["2013-05-15",20],["2013-05-25",16],["2013-06-01",28],["2013-06-15",14],["2013-07-05",12],["2013-07-25",10],["2013-08-15",16],["2013-09-01",12],["2013-09-20",45],["2013-10-10",8],["2013-10-30",6],["2013-11-20",5],["2013-12-01",33],["2013-12-20",10],
["2014-01-15",8],["2014-02-05",4],["2014-03-05",6],["2014-03-25",10],["2014-04-10",22],["2014-04-25",12],["2014-05-10",14],["2014-05-25",18],["2014-06-04",47],["2014-06-15",16],["2014-06-28",14],["2014-07-10",18],["2014-07-22",12],["2014-08-05",10],["2014-08-25",20],["2014-09-01",60],["2014-09-15",12],["2014-10-05",10],["2014-10-25",8],["2014-11-15",6],["2014-12-12",38],["2014-12-28",6],
["2015-01-10",4],["2015-01-23",12],["2015-02-15",5],["2015-03-08",14],["2015-03-25",6],["2015-04-15",10],["2015-05-05",12],["2015-05-16",47],["2015-05-30",16],["2015-06-15",18],["2015-06-28",14],["2015-07-10",30],["2015-07-22",20],["2015-08-03",30],["2015-08-15",14],["2015-08-25",22],["2015-09-10",12],["2015-09-25",8],["2015-10-15",6],["2015-11-10",10],["2015-12-05",5],["2015-12-25",8],
["2016-01-01",38],["2016-01-20",8],["2016-02-15",10],["2016-03-10",6],["2016-04-01",5],["2016-04-20",8],["2016-05-10",12],["2016-05-25",14],["2016-06-10",16],["2016-06-28",48],["2016-07-10",18],["2016-07-20",20],["2016-08-05",12],["2016-08-15",22],["2016-08-30",14],["2016-09-10",16],["2016-09-19",45],["2016-10-05",12],["2016-10-20",10],["2016-11-10",14],["2016-11-28",8],["2016-12-15",6],["2016-12-29",14],
// lighter rain days
["2003-01-15",4],["2003-02-01",3],["2003-03-01",6],["2003-03-28",5],["2003-04-12",6],["2003-05-08",5],["2003-05-22",7],["2003-06-02",6],["2003-06-18",8],["2003-06-30",5],["2003-07-20",6],["2003-08-01",5],["2003-08-22",7],["2003-09-05",6],["2003-09-18",5],["2003-10-02",4],["2003-11-15",3],["2003-12-05",3],
["2004-01-28",4],["2004-02-15",5],["2004-03-12",3],["2004-04-03",4],["2004-04-17",6],["2004-05-05",7],["2004-05-18",5],["2004-06-03",8],["2004-06-16",6],["2004-06-28",7],["2004-07-10",5],["2004-07-24",6],["2004-08-08",6],["2004-08-21",5],["2004-09-04",4],["2004-09-20",6],["2004-10-08",5],["2004-10-28",4],["2004-12-18",5],
["2005-01-25",3],["2005-03-05",3],["2005-04-10",4],["2005-04-28",5],["2005-05-12",6],["2005-05-29",7],["2005-06-10",6],["2005-06-20",8],["2005-07-02",6],["2005-07-14",7],["2005-07-27",5],["2005-08-10",4],["2005-08-28",5],["2005-09-12",6],["2005-09-23",5],["2005-10-05",4],["2005-10-25",4],["2005-11-15",3],["2005-12-05",3],
["2006-01-25",3],["2006-02-20",3],["2006-03-15",4],["2006-04-03",5],["2006-04-15",6],["2006-04-28",5],["2006-05-12",7],["2006-05-27",6],["2006-06-12",8],["2006-06-18",6],["2006-07-03",7],["2006-07-18",6],["2006-08-05",5],["2006-08-18",6],["2006-09-02",5],["2006-09-15",6],["2006-10-03",4],["2006-10-18",5],["2006-11-05",4],["2006-11-25",3],
["2007-01-05",3],["2007-02-20",3],["2007-03-10",5],["2007-03-30",4],["2007-04-18",5],["2007-05-05",4],["2007-05-25",5],["2007-06-10",6],["2007-06-22",7],["2007-07-04",6],["2007-07-16",7],["2007-07-30",5],["2007-08-10",6],["2007-08-22",7],["2007-09-05",5],["2007-09-22",6],["2007-10-05",4],["2007-11-20",3],["2007-12-10",4],
["2008-01-25",3],["2008-02-15",4],["2008-03-05",3],["2008-03-28",5],["2008-04-12",4],["2008-04-28",6],["2008-05-10",5],["2008-05-28",6],["2008-06-12",7],["2008-06-28",6],["2008-07-10",7],["2008-07-22",6],["2008-08-02",6],["2008-08-14",7],["2008-08-27",5],["2008-09-15",5],["2008-10-01",4],["2008-10-25",3],["2008-12-12",3],
["2009-01-25",3],["2009-02-12",3],["2009-03-15",4],["2009-04-05",5],["2009-04-22",4],["2009-05-10",5],["2009-05-28",6],["2009-06-12",7],["2009-06-27",6],["2009-07-08",7],["2009-07-22",6],["2009-08-03",6],["2009-08-17",5],["2009-09-02",6],["2009-09-16",5],["2009-09-30",4],["2009-10-22",4],["2009-11-10",3],["2009-12-12",4],
["2010-01-25",3],["2010-02-20",2],["2010-04-20",3],["2010-05-07",5],["2010-05-17",6],["2010-05-28",7],["2010-06-05",8],["2010-06-15",7],["2010-06-25",6],["2010-07-07",7],["2010-07-17",6],["2010-07-27",6],["2010-08-08",5],["2010-08-22",5],["2010-09-05",4],["2010-09-25",4],["2010-10-25",3],["2010-11-25",3],["2010-12-18",4],
["2011-01-02",4],["2011-01-15",5],["2011-01-30",6],["2011-02-15",5],["2011-03-03",6],["2011-03-15",5],["2011-03-28",6],["2011-04-05",5],["2011-04-15",6],["2011-04-25",7],["2011-05-05",6],["2011-05-15",7],["2011-05-27",5],["2011-06-10",6],["2011-06-22",5],["2011-07-10",5],["2011-07-28",4],["2011-08-12",5],["2011-08-28",4],["2011-09-15",4],["2011-10-05",3],["2011-10-25",3],["2011-11-20",4],["2011-12-05",4],["2011-12-22",5],
["2012-01-05",3],["2012-01-25",4],["2012-03-02",4],["2012-03-27",5],["2012-04-15",4],["2012-05-15",5],["2012-06-03",6],["2012-06-18",6],["2012-07-03",7],["2012-07-15",6],["2012-07-27",6],["2012-08-12",6],["2012-08-26",5],["2012-09-08",5],["2012-10-02",4],["2012-10-20",4],["2012-11-10",3],["2012-12-12",4],
["2013-01-25",2],["2013-03-12",3],["2013-03-28",5],["2013-04-10",6],["2013-04-20",7],["2013-04-30",8],["2013-05-10",7],["2013-05-20",8],["2013-05-29",6],["2013-06-08",6],["2013-06-25",5],["2013-07-15",5],["2013-08-05",4],["2013-08-25",5],["2013-09-10",5],["2013-09-28",4],["2013-10-20",3],["2013-11-10",3],["2013-12-10",4],
["2014-01-05",3],["2014-01-25",3],["2014-02-20",3],["2014-03-15",4],["2014-04-03",5],["2014-04-18",6],["2014-05-03",6],["2014-05-17",7],["2014-05-30",6],["2014-06-10",7],["2014-06-22",6],["2014-07-03",7],["2014-07-16",6],["2014-07-28",5],["2014-08-12",5],["2014-08-20",6],["2014-09-08",6],["2014-09-25",5],["2014-10-15",4],["2014-11-05",3],["2014-12-05",4],["2014-12-20",3],
["2015-01-30",3],["2015-02-25",3],["2015-03-15",4],["2015-04-05",4],["2015-04-25",5],["2015-05-10",6],["2015-05-22",6],["2015-06-05",7],["2015-06-22",6],["2015-07-03",7],["2015-07-16",6],["2015-07-28",7],["2015-08-08",6],["2015-08-20",6],["2015-09-02",5],["2015-09-18",5],["2015-10-05",3],["2015-10-28",3],["2015-11-25",3],["2015-12-15",3],
["2016-01-10",4],["2016-01-30",3],["2016-02-28",3],["2016-03-25",3],["2016-04-10",4],["2016-05-02",5],["2016-05-18",6],["2016-06-02",6],["2016-06-18",7],["2016-07-03",6],["2016-07-15",7],["2016-07-27",6],["2016-08-10",6],["2016-08-22",7],["2016-09-03",6],["2016-09-14",6],["2016-09-26",5],["2016-10-12",5],["2016-10-28",4],["2016-11-18",5],["2016-12-05",4],["2016-12-22",4]
];

// ---------------- CHART ----------------
const parseDay = d3.utcParse("%Y-%m-%d");
const svg = d3.select("#chart");
const plotLeft = 108.3, plotRight = 1081.3, plotTop = 48, plotBottom = 400;

const x = d3.scaleUtc()
  .domain([parseDay("2003-01-01"), parseDay("2017-01-01")])
  .range([plotLeft, plotRight]);
const yFlow = d3.scaleLinear().domain([0, 5]).range([plotBottom, plotTop]);
const yPrecip = d3.scaleLinear().domain([0, 200]).range([plotTop, plotBottom]);

const yearTicks = yearTickLabels.map((_, i) => new Date(Date.UTC(2003 + i, 0, 1)));
const gridColor = "#d9d9d9";
const textColor = "#404040";
const fontStack = "'Open Sans', 'Noto Sans', sans-serif";

// gridlines
svg.append("g").selectAll("line").data(flowTickValues.slice(1)).join("line")
  .attr("x1", plotLeft).attr("x2", plotRight)
  .attr("y1", d => yFlow(d)).attr("y2", d => yFlow(d))
  .attr("stroke", gridColor).attr("stroke-width", 1.5);
svg.append("g").selectAll("line").data(yearTicks.slice(1)).join("line")
  .attr("x1", d => x(d)).attr("x2", d => x(d))
  .attr("y1", plotTop).attr("y2", plotBottom)
  .attr("stroke", gridColor).attr("stroke-width", 1.5);

// precipitation bars
svg.append("g").selectAll("rect").data(precipitation).join("rect")
  .attr("x", d => x(parseDay(d[0])) - 0.8)
  .attr("width", 1.6)
  .attr("y", yPrecip(0))
  .attr("height", d => yPrecip(d[1]) - yPrecip(0))
  .attr("fill", "#bcd2e6")
  .attr("opacity", 0.8);
svg.append("line").attr("x1", plotLeft).attr("x2", plotRight).attr("y1", plotTop).attr("y2", plotTop)
  .attr("stroke", "#8ea9c6").attr("stroke-width", 1.5);

// flow lines
const flowLine = d3.line().x(d => x(parseDay(d[0]))).y(d => yFlow(d[1]));
svg.append("path").datum(observedFlow).attr("d", flowLine)
  .attr("fill", "none").attr("stroke", "#255e91").attr("stroke-width", 3).attr("stroke-linejoin", "round");
svg.append("path").datum(modeledFlow).attr("d", flowLine)
  .attr("fill", "none").attr("stroke", "#ed7d31").attr("stroke-width", 3).attr("stroke-linejoin", "round");

// axes
const axisColor = "#a6a6a6";
const gL = svg.append("g").attr("transform", `translate(${plotLeft},0)`)
  .call(d3.axisLeft(yFlow).tickValues(flowTickValues).tickFormat((d, i) => flowTickLabels[i]).tickSize(5).tickPadding(7));
const gR = svg.append("g").attr("transform", `translate(${plotRight},0)`)
  .call(d3.axisRight(yPrecip).tickValues(precipTickValues).tickSize(5).tickPadding(12));
const gB = svg.append("g").attr("transform", `translate(0,${plotBottom})`)
  .call(d3.axisBottom(x).tickValues(yearTicks).tickFormat((d, i) => yearTickLabels[i]).tickSize(5).tickPadding(6));
[gL, gR, gB].forEach(g => {
  g.selectAll(".domain").attr("stroke", axisColor).attr("stroke-width", 1.5);
  g.selectAll(".tick line").attr("stroke", axisColor).attr("stroke-width", 1.5);
  g.selectAll("text").attr("fill", textColor).style("font-family", fontStack).style("font-size", "15px");
});
gR.selectAll("text").attr("text-anchor", "start");
gB.selectAll("text")
  .style("font-size", "14px")
  .attr("transform", "rotate(-90)")
  .attr("text-anchor", "end")
  .attr("x", -9).attr("y", 0).attr("dy", "0.35em");

// axis titles
svg.append("text").attr("transform", "translate(22,224) rotate(-90)")
  .attr("text-anchor", "middle").attr("fill", "#000")
  .style("font-family", fontStack).style("font-size", "13.5px").style("font-weight", "bold")
  .text("Streamflow (cms)");
svg.append("text").attr("transform", "translate(1150,220) rotate(-90)")
  .attr("text-anchor", "middle").attr("fill", "#000")
  .style("font-family", fontStack).style("font-size", "13.5px").style("font-weight", "bold")
  .text("Precipitation (mm.)");

// legend
const legend = svg.append("g");
legend.append("rect").attr("x", 143).attr("y", 11).attr("width", 22).attr("height", 12).attr("fill", "#c4d7e8");
legend.append("rect").attr("x", 380).attr("y", 15).attr("width", 21).attr("height", 4).attr("fill", "#255e91");
legend.append("rect").attr("x", 870).attr("y", 15).attr("width", 23).attr("height", 4).attr("fill", "#ed7d31");
const legendPos = [[166, 84], [402, 292], [895, 137]];
legend.selectAll("text").data(legendLabels).join("text")
  .attr("x", (d, i) => legendPos[i][0]).attr("y", 22)
  .attr("textLength", (d, i) => legendPos[i][1]).attr("lengthAdjust", "spacingAndGlyphs")
  .attr("fill", "#262626")
  .style("font-family", fontStack).style("font-size", "15px")
  .text(d => d);
</script>
</body>
</html>
